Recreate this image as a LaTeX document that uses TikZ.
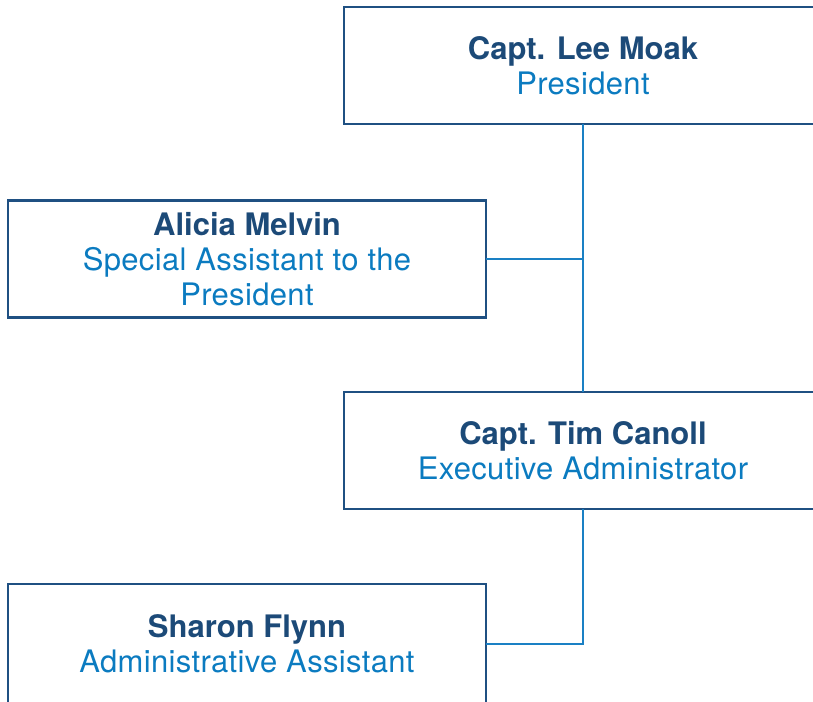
\documentclass[tikz,border=0pt]{standalone}
\usepackage{fontspec}
\setmainfont{TeX Gyre Heros}
\newfontfamily\rolefont[LetterSpace=1.1]{TeX Gyre Heros}
\definecolor{boxc}{HTML}{1F5082}
\definecolor{namec}{HTML}{1C4A78}
\definecolor{rolec}{HTML}{0B7BC0}
\definecolor{linec}{HTML}{1A80C4}
\tikzset{
  orgbox/.style={draw=boxc, line width=2.5pt, minimum width=478pt, minimum height=117pt,
    inner sep=0pt, outer sep=0pt, align=center, font=\fontsize{31}{35}\selectfont},
  conn/.style={draw=linec, line width=2pt},
}
\newcommand{\pname}[1]{{\bfseries\color{namec}#1}}
\newcommand{\prole}[1]{{\rolefont\color{rolec}#1}}
\begin{document}
\begin{tikzpicture}[x=1pt,y=-1pt]
\useasboundingbox (0,0) rectangle (813,701);
\clip (0,0) rectangle (813,701);
\node[orgbox] (pres) at (583,65.5) {\pname{Capt. Lee Moak}\\\prole{President}};
\node[orgbox] (spec) at (247,259) {\pname{Alicia Melvin}\\\prole{Special Assistant to the}\\\prole{President}};
\node[orgbox] (exec) at (583,450.5) {\pname{Capt. Tim Canoll}\\\prole{Executive Administrator}};
\node[orgbox, minimum height=119pt] (adm) at (247,643.5) {\pname{Sharon Flynn}\\\prole{Administrative Assistant}};
\draw[conn] (pres.south) -- (exec.north);
\draw[conn] (spec.east) -- (spec.east -| pres.south);
\draw[conn] (exec.south) |- (adm.east);
\end{tikzpicture}
\end{document}
